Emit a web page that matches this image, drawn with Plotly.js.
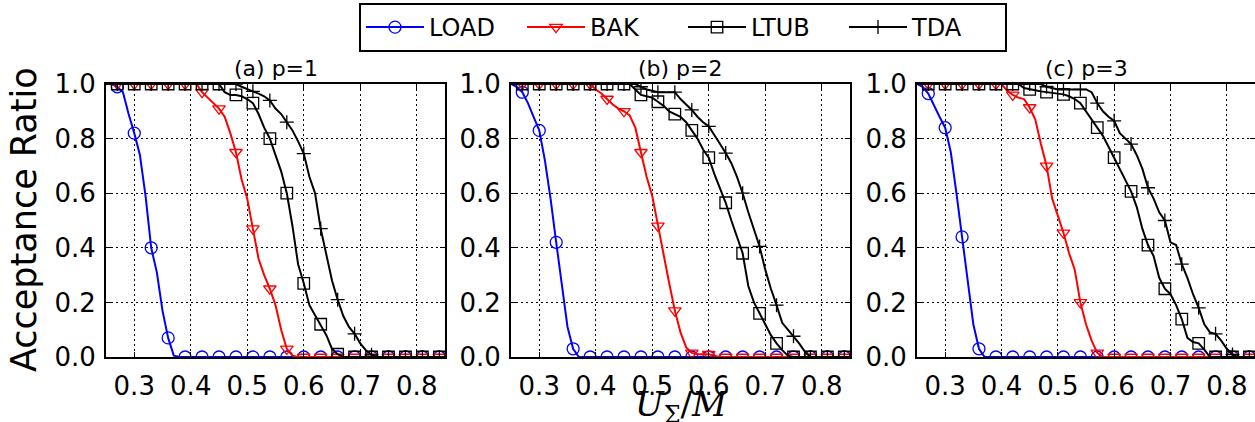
<!DOCTYPE html>
<html><head><meta charset="utf-8">
<script src="https://cdn.plot.ly/plotly-3.0.1.min.js"></script>
<style>html,body{margin:0;padding:0;background:#fff}#chart{width:1255px;height:422px}</style>
</head><body><div id="chart"></div>
<script>
// x values U_Sigma/M
const X = [0.25,0.26,0.27,0.28,0.29,0.30,0.31,0.32,0.33,0.34,0.35,0.36,0.37,0.38,0.39,0.40,
  0.41,0.42,0.43,0.44,0.45,0.46,0.47,0.48,0.49,0.50,0.51,0.52,0.53,0.54,0.55,0.56,0.57,0.58,0.59,0.60,
  0.61,0.62,0.63,0.64,0.65,0.66,0.67,0.68,0.69,0.70,0.71,0.72,0.73,0.74,0.75,0.76,0.77,0.78,0.79,0.80,
  0.81,0.82,0.83,0.84,0.85];

// (a) p=1
const LOAD_A = [1,1,0.99,0.97,0.89,0.82,0.74,0.59,0.40,0.31,0.17,0.07,0.005,
  0,0,0,0,0,0,0,0,0,0,0,0,0,0,0,0,0,0,0,0,0,0,0,0,0,0,0,0,0,0,0,0,0,0,0,0,0,0,0,0,0,0,0,0,0,0,0,0];
const BAK_A = [1,1,1,1,1,1,1,1,1,1,1,1,1,1,1,1,
  1,0.97,0.95,0.93,0.91,0.88,0.82,0.75,0.65,0.58,0.47,0.36,0.30,0.25,0.19,0.10,0.03,0.005,
  0,0,0,0,0,0,0,0,0,0,0,0,0,0,0,0,0,0,0,0,0,0,0,0,0,0,0];
const LTUB_A = [1,1,1,1,1,1,1,1,1,1,1,1,1,1,1,1,1,1,1,1,1,
  0.97,0.96,0.96,0.955,0.945,0.93,0.89,0.84,0.80,0.74,0.68,0.60,0.48,0.34,0.27,0.19,0.155,0.12,0.08,0.03,0.01,
  0,0,0,0,0,0,0,0,0,0,0,0,0,0,0,0,0,0,0];
const TDA_A = [1,1,1,1,1,1,1,1,1,1,1,1,1,1,1,1,1,1,1,1,1,1,1,1,
  0.99,0.98,0.973,0.965,0.955,0.94,0.91,0.89,0.86,0.83,0.79,0.745,0.66,0.60,0.47,0.37,0.28,0.21,0.15,0.11,0.085,0.05,0.025,0.008,
  0,0,0,0,0,0,0,0,0,0,0,0,0];

// (b) p=2
const LOAD_B = [1,0.99,0.97,0.93,0.88,0.83,0.72,0.58,0.42,0.26,0.11,0.03,
  0,0,0,0,0,0,0,0,0,0,0,0,0,0,0,0,0,0,0,0,0,0,0,0,0,0,0,0,0,0,0,0,0,0,0,0,0,0,0,0,0,0,0,0,0,0,0,0,0];
const BAK_B = [1,1,1,1,1,1,1,1,1,1,1,1,1,1,1,
  0.98,0.965,0.945,0.925,0.91,0.90,0.885,0.84,0.75,0.66,0.59,0.48,0.38,0.27,0.17,0.09,0.035,0.015,0.01,0.01,0.01,0.005,
  0,0,0,0,0,0,0,0,0,0,0,0,0,0,0,0,0,0,0,0,0,0,0,0];
const LTUB_B = [1,1,1,1,1,1,1,1,1,1,1,1,1,1,1,1,1,1,1,1,1,1,
  0.98,0.96,0.955,0.95,0.935,0.92,0.90,0.89,0.88,0.86,0.83,0.80,0.76,0.73,0.67,0.62,0.565,0.50,0.44,0.38,0.26,0.20,0.16,0.12,0.08,0.05,0.025,0.005,
  0,0,0,0,0,0,0,0,0,0,0];
const TDA_B = [1,1,1,1,1,1,1,1,1,1,1,1,1,1,1,1,1,1,1,1,1,1,1,
  0.99,0.98,0.975,0.97,0.97,0.97,0.97,0.945,0.925,0.905,0.88,0.86,0.845,0.81,0.78,0.747,0.71,0.66,0.60,0.53,0.47,0.405,0.32,0.25,0.19,0.125,0.10,0.076,0.05,0.02,
  0,0,0,0,0,0,0,0];

// (c) p=3
const LOAD_C = [1,0.99,0.965,0.92,0.88,0.84,0.75,0.60,0.44,0.27,0.12,0.03,
  0,0,0,0,0,0,0,0,0,0,0,0,0,0,0,0,0,0,0,0,0,0,0,0,0,0,0,0,0,0,0,0,0,0,0,0,0,0,0,0,0,0,0,0,0,0,0,0,0];
const BAK_C = [1,1,1,1,1,1,1,1,1,1,1,1,1,1,1,1,
  0.975,0.96,0.95,0.945,0.914,0.87,0.78,0.70,0.58,0.52,0.455,0.38,0.32,0.20,0.12,0.06,0.015,
  0,0,0,0,0,0,0,0,0,0,0,0,0,0,0,0,0,0,0,0,0,0,0,0,0,0,0,0];
const LTUB_C = [1,1,1,1,1,1,1,1,1,1,1,1,1,1,1,1,1,1,1,
  0.985,0.98,0.977,0.973,0.97,0.967,0.965,0.962,0.955,0.945,0.93,0.90,0.87,0.84,0.81,0.77,0.73,0.69,0.65,0.607,0.55,0.47,0.41,0.37,0.29,0.25,0.23,0.19,0.139,0.07,0.055,0.05,0.027,
  0,0,0,0,0,0,0,0,0];
const TDA_C = [1,1,1,1,1,1,1,1,1,1,1,1,1,1,1,1,1,1,1,1,1,1,1,
  0.99,0.985,0.98,0.98,0.98,0.98,0.98,0.98,0.97,0.93,0.90,0.88,0.865,0.82,0.80,0.78,0.74,0.69,0.62,0.58,0.53,0.50,0.42,0.41,0.34,0.29,0.23,0.18,0.12,0.09,0.085,0.06,0.03,0.009,
  0,0,0,0];

const SERIES_NAMES = ['LOAD','BAK','LTUB','TDA'];
const PANEL_TITLES = ['(a) p=1','(b) p=2','(c) p=3'];
const PANEL_DATA = [
  [LOAD_A, BAK_A, LTUB_A, TDA_A],
  [LOAD_B, BAK_B, LTUB_B, TDA_B],
  [LOAD_C, BAK_C, LTUB_C, TDA_C]
];
const X_TICKS = [0.3,0.4,0.5,0.6,0.7,0.8];
const Y_TICKS = [0,0.2,0.4,0.6,0.8,1.0];

const STYLES = [
  {color:'#0000ff', symbol:'circle-open', size:12},
  {color:'#ff0000', symbol:'triangle-down-open', size:11},
  {color:'#000000', symbol:'square-open', size:11.5},
  {color:'#000000', symbol:'cross-thin-open', size:10}
];

const W = 1255, H = 422;
const XDOM = [[106/W, 445/W],[511/W, 850/W],[917/W, 1]];
const YDOM = [(H-357)/H, (H-84)/H];

const traces = [];
// legend entries
SERIES_NAMES.forEach((n, s) => {
  const st = STYLES[s];
  traces.push({x:[null], y:[null], name:n, mode:'lines+markers', type:'scatter',
    line:{color:st.color, width:2},
    marker:{symbol:st.symbol, size:st.size, color:st.color, line:{color:st.color, width:1.3}},
    showlegend:true, hoverinfo:'skip'});
});
PANEL_DATA.forEach((panel, p) => {
  const xa = p === 0 ? 'x' : 'x' + (p+1);
  const ya = p === 0 ? 'y' : 'y' + (p+1);
  panel.forEach((ys, s) => {
    const st = STYLES[s];
    traces.push({x:X, y:ys, xaxis:xa, yaxis:ya, mode:'lines', type:'scatter',
      line:{color:st.color, width:2}, showlegend:false, hoverinfo:'skip'});
    const mx = [], my = [];
    X.forEach((xv, i) => { if (i % 3 === 2) { mx.push(xv); my.push(ys[i]); } });
    traces.push({x:mx, y:my, xaxis:xa, yaxis:ya, mode:'markers', type:'scatter',
      marker:{symbol:st.symbol, size:st.size, color:st.color, line:{color:st.color, width:1.3}},
      showlegend:false, hoverinfo:'skip'});
  });
});

const tickFont = {family:'DejaVu Sans', size:26, color:'#000'};
function xAxis(dom, anchor) {
  return {domain:dom, anchor:anchor, range:[0.25,0.85], tickvals:X_TICKS, tickformat:'.1f',
    ticks:'inside', ticklen:5, tickwidth:1, tickcolor:'#000',
    showline:true, linecolor:'#000', linewidth:2, mirror:'ticks',
    showgrid:true, gridcolor:'#000', gridwidth:1, griddash:'1.5px,3.5px',
    zeroline:false, tickfont:tickFont, ticklabelstandoff:5, fixedrange:true};
}
function yAxis(anchor) {
  return {domain:YDOM, anchor:anchor, range:[0,1], tickvals:Y_TICKS, tickformat:'.1f',
    ticks:'inside', ticklen:5, tickwidth:1, tickcolor:'#000',
    showline:true, linecolor:'#000', linewidth:2, mirror:'ticks',
    showgrid:true, gridcolor:'#000', gridwidth:1, griddash:'1.5px,3.5px',
    zeroline:false, tickfont:tickFont, ticklabelstandoff:3, fixedrange:true};
}

const annotations = PANEL_TITLES.map((t, p) => ({
  text:t, xref:'paper', yref:'paper', x:(XDOM[p][0]+XDOM[p][1])/2,
  y:(H-68)/H, xanchor:'center', yanchor:'middle', showarrow:false,
  font:{family:'DejaVu Sans', size:22, color:'#000'}
}));
annotations[2].x = (917 + 1256) / 2 / W;
annotations.push({text:'Acceptance Ratio', xref:'paper', yref:'paper', x:24/W, y:(H-220)/H,
  xanchor:'center', yanchor:'middle', textangle:-90, showarrow:false,
  font:{family:'DejaVu Sans', size:35, color:'#000'}});
annotations.push({text:'<i>U</i><sub>Σ</sub>/<i>M</i>', xref:'paper', yref:'paper', x:681/W, y:(H-382)/H,
  xanchor:'center', yanchor:'top', showarrow:false,
  font:{family:'DejaVu Serif', size:34, color:'#000'}});

const layout = {
  width:W, height:H, margin:{l:0,r:0,t:0,b:0}, paper_bgcolor:'#fff', plot_bgcolor:'#fff',
  xaxis:xAxis(XDOM[0],'y'), yaxis:yAxis('x'),
  xaxis2:xAxis(XDOM[1],'y2'), yaxis2:yAxis('x2'),
  xaxis3:xAxis(XDOM[2],'y3'), yaxis3:yAxis('x3'),
  showlegend:true,
  legend:{orientation:'h', x:683/W, xanchor:'center', y:1-3/H, yanchor:'top',
    bordercolor:'#000', borderwidth:2, bgcolor:'#fff', itemwidth:58,
    font:{family:'DejaVu Sans', size:24, color:'#000'}, entrywidth:88, entrywidthmode:'pixels'},
  annotations:annotations
};

Plotly.newPlot('chart', traces, layout, {staticPlot:true, displayModeBar:false});
</script>
</body></html>
